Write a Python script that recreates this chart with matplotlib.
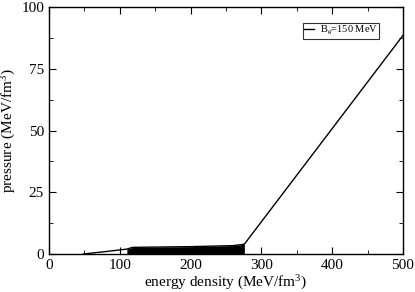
import matplotlib
matplotlib.use("Agg")
import matplotlib.pyplot as plt
from matplotlib.ticker import MultipleLocator

plt.rcParams['font.family'] = ['Liberation Serif', 'DejaVu Serif']
plt.rcParams['mathtext.fontset'] = 'custom'
plt.rcParams['mathtext.rm'] = 'Liberation Serif'
plt.rcParams['mathtext.it'] = 'Liberation Serif:italic'

# EOS curve (energy density, pressure)
eps = [48, 80, 110, 118, 200, 260, 276, 500]
pres = [0.0, 1.0, 2.0, 2.7, 3.0, 3.4, 4.0, 88.5]

# mixed-phase (filled) region
mix_eps = [110, 118, 200, 260, 276]
mix_top = [2.0, 2.7, 3.0, 3.4, 4.0]
mix_bot = [0.0, 0.0, 0.0, 0.0, 0.0]

fig = plt.figure(figsize=(4.15, 2.92), dpi=100)
ax = fig.add_axes([0.118, 0.130, 0.853, 0.846])

ax.fill_between(mix_eps, mix_bot, mix_top, color='black', lw=0)
ax.plot(eps, pres, color='black', lw=1.0, label=r'B$_g$=150 MeV')

ax.set_xlim(0, 500)
ax.set_ylim(0, 100)
ax.xaxis.set_major_locator(MultipleLocator(100))
ax.xaxis.set_minor_locator(MultipleLocator(50))
ax.yaxis.set_major_locator(MultipleLocator(25))
ax.yaxis.set_minor_locator(MultipleLocator(12.5))
ax.tick_params(which='both', direction='in', top=True, right=True, labelsize=11)
ax.tick_params(which='major', length=5)
ax.tick_params(which='minor', length=3)
for s in ax.spines.values():
    s.set_linewidth(1.0)

ax.set_xlabel(r'energy density (MeV/fm$^3$)', fontsize=11, labelpad=1)
ax.set_ylabel(r'pressure (MeV/fm$^3$)', fontsize=11, labelpad=2)

leg = ax.legend(loc='upper right', bbox_to_anchor=(0.932, 0.935), fontsize=7.5,
                frameon=True, fancybox=False, edgecolor='black', handlelength=1.0,
                handletextpad=0.5, borderpad=0.12, borderaxespad=0.0)
leg.get_frame().set_linewidth(0.8)

fig.savefig('out.png', dpi=100)
